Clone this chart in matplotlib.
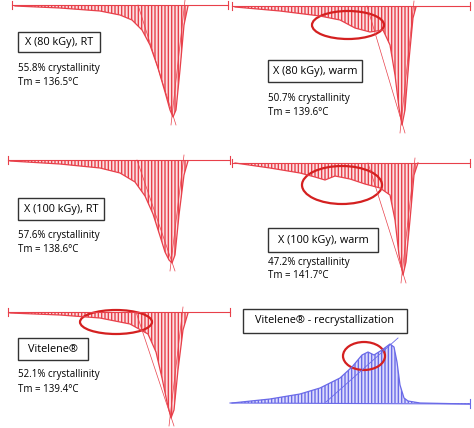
import numpy as np
import matplotlib.pyplot as plt
from matplotlib.patches import Ellipse, Rectangle

# ---- curve outlines (pixel coords) ----
p1_x = [15, 60, 100, 120, 132, 142, 150, 158, 165, 170, 173, 176, 180, 184, 188]
p1_y = [6, 8, 11, 15, 20, 30, 45, 68, 92, 110, 117, 110, 70, 25, 6]

p2_x = [235, 280, 320, 340, 355, 370, 383, 390, 395, 399, 402, 405, 409, 413, 416]
p2_y = [7, 11, 16, 20, 28, 32, 30, 45, 75, 108, 125, 110, 60, 18, 7]

p3_x = [10, 60, 100, 120, 135, 145, 153, 160, 165, 169, 172, 175, 179, 184, 188]
p3_y = [161, 164, 168, 173, 182, 196, 214, 236, 252, 260, 263, 255, 215, 175, 161]

p4_x = [235, 270, 300, 315, 325, 335, 350, 365, 380, 390, 395, 399, 403, 406, 410, 414, 418]
p4_y = [163, 168, 173, 177, 180, 176, 179, 184, 188, 195, 220, 255, 275, 262, 220, 175, 163]

p5_x = [10, 60, 100, 130, 148, 156, 162, 167, 171, 174, 178, 183, 188]
p5_y = [313, 315, 318, 324, 334, 352, 378, 402, 418, 410, 370, 330, 313]

p6_x = [232, 270, 300, 320, 340, 352, 362, 368, 374, 382, 390, 394, 397, 400, 404, 408, 420, 470]
p6_y = [403, 399, 394, 388, 378, 367, 355, 352, 355, 350, 344, 347, 362, 385, 398, 401, 403, 404]

labels = ["X (80 kGy), RT", "X (80 kGy), warm", "X (100 kGy), RT",
          "X (100 kGy), warm", "Vitelene®", "Vitelene® - recrystallization"]
cryst = ["55.8% crystallinity", "50.7% crystallinity", "57.6% crystallinity",
         "47.2% crystallinity", "52.1% crystallinity"]
tm = ["Tm = 136.5°C", "Tm = 139.6°C", "Tm = 138.6°C", "Tm = 141.7°C", "Tm = 139.4°C"]

fig = plt.figure(figsize=(4.74, 4.28), dpi=100)
ax = fig.add_axes([0, 0, 1, 1])
ax.set_xlim(0, 474)
ax.set_ylim(428, 0)
ax.axis("off")

red = "#e8404a"
blue = "#6a6ae8"

curves = [(p1_x, p1_y, 5, 12, 228), (p2_x, p2_y, 6, 232, 470),
          (p3_x, p3_y, 160, 8, 230), (p4_x, p4_y, 163, 232, 470),
          (p5_x, p5_y, 312, 8, 230)]
for cx, cy, base, x0, x1 in curves:
    ax.plot([x0, x1], [base, base], color=red, lw=0.8)
    ax.plot([x0, x0], [base - 4, base + 4], color=red, lw=0.8)
    ax.plot([x1, x1], [base - 4, base + 4], color=red, lw=0.8)
    ax.fill_between(cx, base, cy, facecolor="#fbe1e3", edgecolor=red, hatch="|||||", lw=0)
    ax.plot(cx, cy, color=red, lw=0.9)
    # tangent lines near the peak
    i = int(np.argmax(cy))
    ax.plot([cx[i] - 35, cx[i] + 3], [base, cy[i] + 8], color=red, lw=0.5)
    ax.plot([cx[i] - 2, cx[i] + 12], [cy[i] + 8, base - 5], color=red, lw=0.5)

ax.plot([230, 470], [403, 404], color=blue, lw=0.8)
ax.plot([470, 470], [399, 408], color=blue, lw=0.8)
ax.fill_between(p6_x, 403, p6_y, facecolor="#dcdcfb", edgecolor=blue, hatch="|||||", lw=0)
ax.plot(p6_x, p6_y, color=blue, lw=0.9)
ax.plot([326, 398], [402, 338], color=blue, lw=0.6)

for (ex, ey, ew, eh) in [(348, 25, 72, 28), (342, 185, 80, 38),
                         (116, 322, 72, 24), (364, 356, 42, 28)]:
    ax.add_patch(Ellipse((ex, ey), ew, eh, fill=False, ec="#d42020", lw=1.6))

boxes = [(18, 32, 82, 20), (268, 60, 94, 22), (18, 198, 86, 22),
         (268, 228, 110, 24), (18, 338, 70, 22), (243, 309, 164, 24)]
for (bx, by, bw, bh), lab in zip(boxes, labels):
    ax.add_patch(Rectangle((bx, by), bw, bh, fill=True, fc="white", ec="#333333", lw=1))
    ax.text(bx + bw / 2, by + bh / 2, lab, ha="center", va="center", fontsize=7.8,
            family="Open Sans")

tpos = [(18, 68), (268, 98), (18, 235), (268, 262), (18, 375)]
for (tx, ty), c, t in zip(tpos, cryst, tm):
    ax.text(tx, ty, c, fontsize=7, va="center", family="Open Sans")
    ax.text(tx, ty + 14, t, fontsize=7, va="center", family="Open Sans")

fig.savefig("out.png", dpi=100)
